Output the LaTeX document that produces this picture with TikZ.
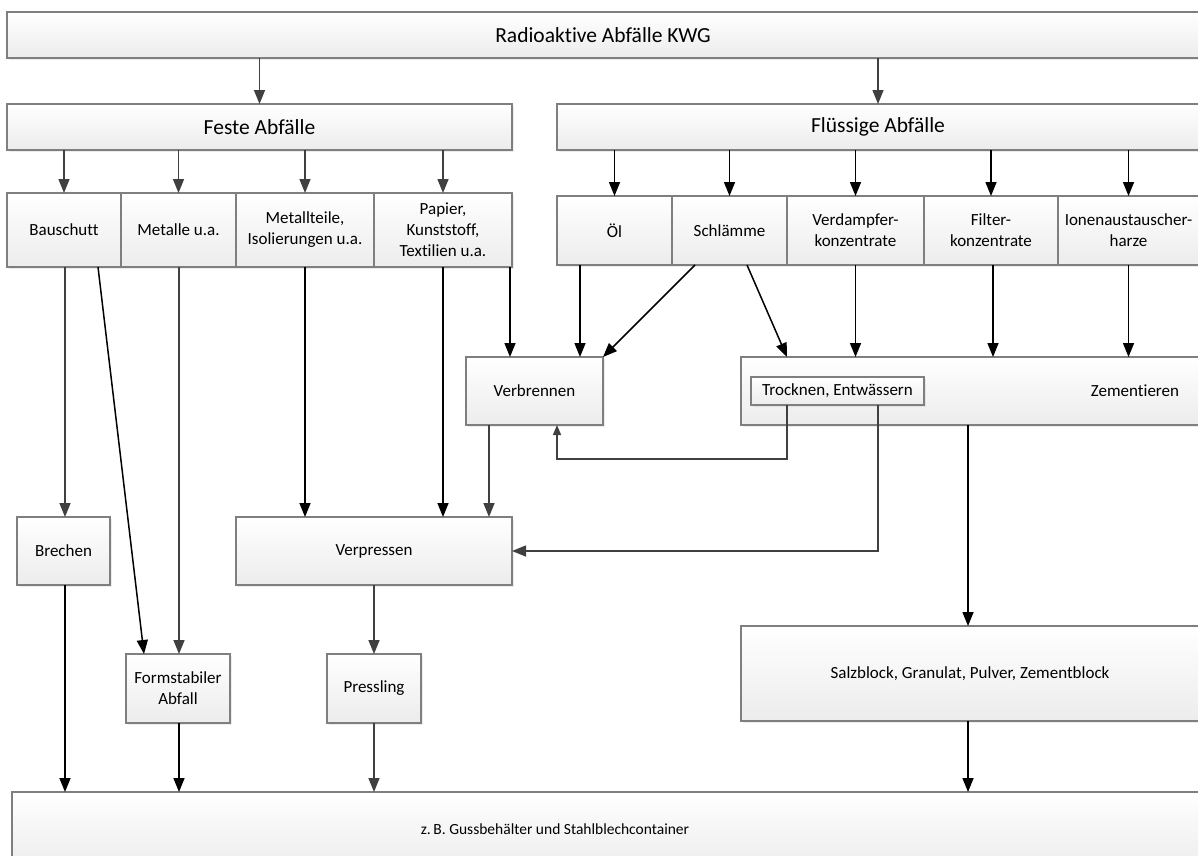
\documentclass[tikz,border=0pt]{standalone}
\usepackage{fontspec}
\setmainfont{Carlito}[Ligatures=NoCommon]
\usetikzlibrary{arrows.meta,shadows,calc}
\definecolor{lgray}{HTML}{7F7F7F}
\definecolor{dgray}{HTML}{404040}
\definecolor{shadeb}{HTML}{ECECEC}
\tikzset{
 box/.style={draw=lgray, line width=1.3pt, top color=white, bottom color=shadeb, inner sep=0pt, outer sep=0pt, align=center,
   drop shadow={shadow xshift=2pt, shadow yshift=-2pt, opacity=0.15, fill=gray}},
 big/.style={font=\fontsize{21.5}{25}\selectfont},
 small/.style={font=\fontsize{17}{21}\selectfont},
 tiny/.style={font=\fontsize{15.5}{19}\selectfont},
 garr/.style={draw=dgray, line width=1.5pt, -{Triangle[length=14pt,width=11pt]}},
 barr/.style={draw=black, line width=1.5pt, -{Triangle[length=14pt,width=11pt]}},
 sgarr/.style={draw=dgray, line width=1.5pt, -{Triangle[length=10pt,width=8pt]}},
}
\begin{document}
\begin{tikzpicture}[x=1pt,y=-1pt]
\useasboundingbox (0,0) rectangle (1198,855);
\clip (0,0) rectangle (1198,855);
\fill[white] (0,0) rectangle (1198,855);

% top levels
\node[box,big,minimum width=1192pt,minimum height=46pt] (top) at (603,35) {Radioaktive Abfälle KWG};
\node[box,big,minimum width=505pt,minimum height=46pt] (feste) at (259.5,127) {Feste Abfälle};
\node[box,big,minimum width=642pt,minimum height=46pt] (fluess) at (878,127) {Flüssige Abfälle};

% solid row
\node[box,small,minimum width=114pt,minimum height=74pt] (bau) at (64,230) {Bauschutt};
\node[box,small,minimum width=115pt,minimum height=74pt] (met) at (178.5,230) {Metalle u.a.};
\node[box,small,minimum width=138pt,minimum height=74pt] (metteil) at (305,230) {Metallteile,\\Isolierungen u.a.};
\node[box,small,minimum width=138pt,minimum height=74pt] (pap) at (443,230) {Papier,\\Kunststoff,\\Textilien u.a.};

% liquid row
\node[box,small,minimum width=115pt,minimum height=69pt] (oel) at (614.5,230.5) {Öl};
\node[box,small,minimum width=115pt,minimum height=69pt] (schl) at (729.5,230.5) {Schlämme};
\node[box,small,minimum width=137pt,minimum height=69pt] (verd) at (855.5,230.5) {Verdampfer-\\konzentrate};
\node[box,small,minimum width=134pt,minimum height=69pt] (filt) at (991,230.5) {Filter-\\konzentrate};
\node[box,small,minimum width=141pt,minimum height=69pt] (ion) at (1128.5,230.5) {Ionenaustauscher-\\harze};

% processing
\node[box,small,minimum width=137pt,minimum height=68pt] (verb) at (534.5,391) {Verbrennen};
\node[box,small,minimum width=458pt,minimum height=68pt] (zem) at (970,391) {};
\node[small] (zemtext) at (1135,391) {Zementieren};
\node[box,small,minimum width=173pt,minimum height=28pt] (trock) at (837.5,391) {Trocknen, Entwässern};

\node[box,small,minimum width=93pt,minimum height=68pt] (brech) at (63.5,551) {Brechen};
\node[box,small,minimum width=276pt,minimum height=68pt] (verp) at (374,551) {Verpressen};

\node[box,small,minimum width=104pt,minimum height=69pt] (form) at (178,688.5) {Formstabiler\\Abfall};
\node[box,small,minimum width=94pt,minimum height=69pt] (press) at (374,688.5) {Pressling};
\node[box,small,minimum width=458pt,minimum height=95pt] (salz) at (970,673.5) {Salzblock, Granulat, Pulver, Zementblock};

\node[box,minimum width=1187pt,minimum height=78pt] (bottom) at (605.5,831) {};
\node[tiny] (bottomtext) at (555,829) {z.\,B. Gussbehälter und Stahlblechcontainer};

% connectors top
\draw[garr] (top.south -| feste.north) -- (feste.north);
\draw[garr] (top.south -| fluess.north) -- (fluess.north);
\foreach \n in {bau,met,metteil,pap} \draw[garr] (feste.south -| \n.north) -- (\n.north);
\foreach \n in {oel,schl,verd,filt,ion} \draw[barr] (fluess.south -| \n.north) -- (\n.north);

% into Verbrennen
\coordinate (p1) at ([xshift=67pt]pap.south);
\draw[barr] (p1) -- (p1 |- verb.north);
\coordinate (o1) at ([xshift=-34.5pt]oel.south);
\draw[barr] (o1) -- (o1 |- verb.north);
\coordinate (s1) at ([xshift=-34.5pt]schl.south);
\draw[barr] (s1) -- (verb.north east);
\coordinate (s2) at ([xshift=17.5pt]schl.south);
\coordinate (z1) at ([xshift=-183pt]zem.north);
\draw[barr] (s2) -- (z1);
\draw[barr] (verd.south) -- (verd.south |- zem.north);
\coordinate (f1) at ([xshift=2pt]filt.south);
\draw[barr] (f1) -- (f1 |- zem.north);
\draw[barr] (ion.south) -- (ion.south |- zem.north);

% Trocknen returns
\coordinate (t1) at ([xshift=-50.5pt]trock.south);
\coordinate (v1) at ([xshift=22.5pt]verb.south);
\draw[sgarr] (t1) -- ++(0,54) -| (v1);
\coordinate (t2) at ([xshift=40.5pt]trock.south);
\draw[garr] (t2) |- (verp.east);

% Verbrennen -> Verpressen
\coordinate (v2) at ([xshift=-45.5pt]verb.south);
\draw[garr] (v2) -- (v2 |- verp.north);
\draw[barr] (metteil.south) -- (metteil.south |- verp.north);
\draw[barr] (pap.south) -- (pap.south |- verp.north);

% Bauschutt
\coordinate (b1) at ([xshift=1pt]bau.south);
\draw[garr] (b1) -- (b1 |- brech.north);
\coordinate (b2) at ([xshift=34pt]bau.south);
\coordinate (fm1) at ([xshift=-34pt]form.north);
\draw[barr] (b2) -- (fm1);
\coordinate (m1) at ([xshift=0.5pt]met.south);
\draw[garr] (m1) -- (m1 |- form.north);

% Verpressen -> Pressling
\draw[garr] (verp.south) -- (press.north);

% Zementieren -> Salzblock
\coordinate (zs) at ([xshift=-2pt]zem.south);
\draw[barr] (zs) -- (zs |- salz.north);

% to bottom
\coordinate (br1) at ([xshift=1.5pt]brech.south);
\draw[barr] (br1) -- (br1 |- bottom.north);
\coordinate (fm2) at ([xshift=1pt]form.south);
\draw[barr] (fm2) -- (fm2 |- bottom.north);
\draw[garr] (press.south) -- (press.south |- bottom.north);
\coordinate (sz) at ([xshift=-2pt]salz.south);
\draw[barr] (sz) -- (sz |- bottom.north);
\end{tikzpicture}
\end{document}
